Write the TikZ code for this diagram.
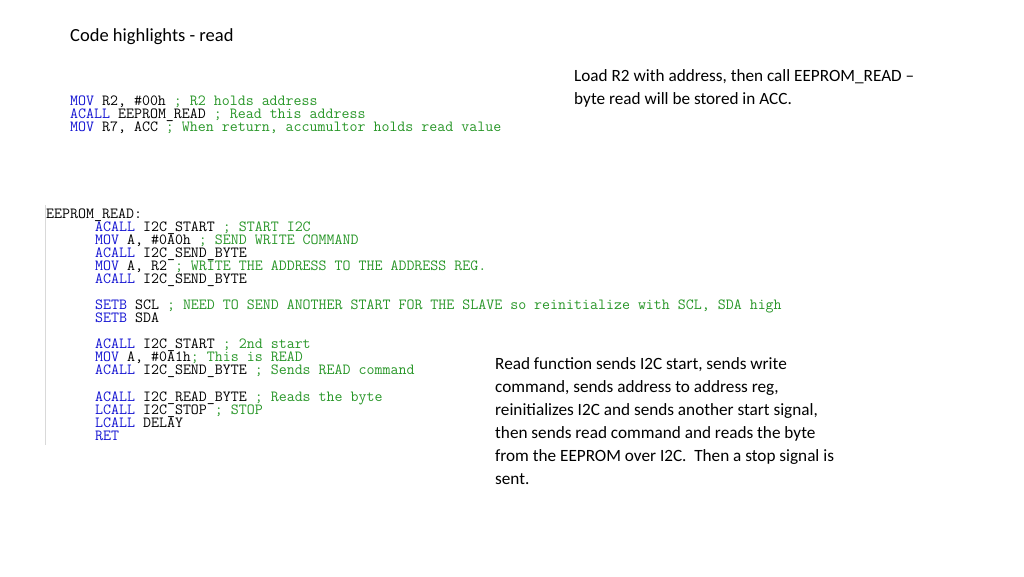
\documentclass[tikz,border=0pt]{standalone}
\usepackage{fontspec}
\setmainfont{Carlito}
\usetikzlibrary{positioning}
\definecolor{kwblue}{RGB}{20,20,210}
\definecolor{cmgreen}{RGB}{40,150,40}
\tikzset{%
  slidetext/.style={anchor=north west,inner sep=0pt,align=left,
    font=\fontsize{17.2}{23}\selectfont},
  codeline/.style={anchor=base west,inner sep=0pt,
    font=\fontsize{15.5}{13}\ttfamily}
}
\def\kw#1{\textcolor{kwblue}{#1}}
\def\cm#1{\textcolor{cmgreen}{#1}}
\begin{document}
\begin{tikzpicture}[x=1pt,y=-1pt]
\useasboundingbox (0,0) rectangle (1024,576);
\node[slidetext,font=\fontsize{18.5}{20}\selectfont] (title) at (70,28) {Code highlights - read};
% calling code
\node[codeline] (c1) at (70,105) {\kw{MOV} R2, \#00h \cm{; R2 holds address}};
\node[codeline] (c2) at (70,118) {\kw{ACALL} EEPROM\_READ \cm{; Read this address}};
\node[codeline] (c3) at (70,131) {\kw{MOV} R7, ACC \cm{; When return, accumultor holds read value}};
\node[slidetext] (note1) at (574,69) {Load R2 with address, then call EEPROM\_READ --\\byte read will be stored in ACC.};
% EEPROM_READ routine
\draw[black!15] (45,205) -- (45,445);
\node[codeline] (r0) at (46,218) {EEPROM\_READ:};
\node[codeline] (r1) at (95,231) {\kw{ACALL} I2C\_START \cm{; START I2C}};
\node[codeline] (r2) at (95,244) {\kw{MOV} A, \#0A0h \cm{; SEND WRITE COMMAND}};
\node[codeline] (r3) at (95,257) {\kw{ACALL} I2C\_SEND\_BYTE};
\node[codeline] (r4) at (95,270) {\kw{MOV} A, R2 \cm{; WRITE THE ADDRESS TO THE ADDRESS REG.}};
\node[codeline] (r5) at (95,283) {\kw{ACALL} I2C\_SEND\_BYTE};
\node[codeline] (r6) at (95,309) {\kw{SETB} SCL \cm{; NEED TO SEND ANOTHER START FOR THE SLAVE so reinitialize with SCL, SDA high}};
\node[codeline] (r7) at (95,322) {\kw{SETB} SDA};
\node[codeline] (r8) at (95,348) {\kw{ACALL} I2C\_START \cm{; 2nd start}};
\node[codeline] (r9) at (95,361) {\kw{MOV} A, \#0A1h\cm{; This is READ}};
\node[codeline] (r10) at (95,374) {\kw{ACALL} I2C\_SEND\_BYTE \cm{; Sends READ command}};
\node[codeline] (r11) at (95,401) {\kw{ACALL} I2C\_READ\_BYTE \cm{; Reads the byte}};
\node[codeline] (r12) at (95,414) {\kw{LCALL} I2C\_STOP \cm{; STOP}};
\node[codeline] (r13) at (95,427) {\kw{LCALL} DELAY};
\node[codeline] (r14) at (95,440) {\kw{RET}};
\node[slidetext] (note2) at (495,357) {Read function sends I2C start, sends write\\command, sends address to address reg,\\reinitializes I2C and sends another start signal,\\then sends read command and reads the byte\\from the EEPROM over I2C.~ Then a stop signal is\\sent.};
\end{tikzpicture}
\end{document}
